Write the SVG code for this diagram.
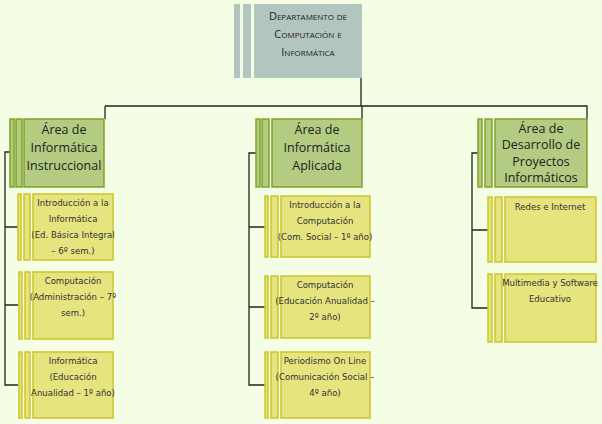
<svg xmlns="http://www.w3.org/2000/svg" width="602" height="424" viewBox="0 0 602 424">
<style>
.top{fill:#b2c5bf}
.l2{fill:#b3cc82;stroke:#7ea227;stroke-width:1.5}
.l3{fill:#e5e47f;stroke:#cbc52a;stroke-width:1.5}
.c{fill:none;stroke:#222;stroke-width:1.3}
.t1{font-family:"Open Sans","DejaVu Sans",sans-serif;font-size:11px;font-variant:small-caps;fill:#222;text-anchor:middle}
.t2{font-family:"Open Sans","DejaVu Sans",sans-serif;font-size:12.5px;fill:#222;text-anchor:middle}
.t3{font-family:"DejaVu Sans Condensed","Liberation Sans Narrow","Liberation Sans",sans-serif;font-size:9.5px;fill:#333;text-anchor:middle;font-stretch:condensed}
</style>
<rect width="602" height="424" fill="#f4fee4"/>
<g id="connectors">
<path class="c" d="M361 78V106M105 106H587V119M362 106V119M105 106V119"/>
<path class="c" d="M10 152H5V385H18M5 227H18M5 305H18"/>
<path class="c" d="M256 153H249V385H265M249 227H265M249 307H265"/>
<path class="c" d="M478 153H472V308H488M472 230H488"/>
</g>
<g id="top">
<rect class="top" x="234" y="4" width="6" height="74"/><rect class="top" x="243" y="4" width="8" height="74"/><rect class="top" x="254" y="4" width="108" height="74"/>
<text class="t1" x="308" y="20">Departamento de</text>
<text class="t1" x="308" y="38">Computación e</text>
<text class="t1" x="308" y="56">Informática</text>
</g>
<g id="a1">
<rect class="l2" x="10" y="119" width="4" height="68"/><rect class="l2" x="16" y="119" width="6" height="68"/><rect class="l2" x="24" y="119" width="80" height="68"/>
<text class="t2" x="64" y="134">Área de</text><text class="t2" x="64" y="152">Informática</text><text class="t2" x="64" y="170">Instruccional</text>
</g>
<g id="a2">
<rect class="l2" x="256" y="119" width="4" height="68"/><rect class="l2" x="262" y="119" width="7" height="68"/><rect class="l2" x="272" y="119" width="90" height="68"/>
<text class="t2" x="317" y="134">Área de</text><text class="t2" x="317" y="152">Informática</text><text class="t2" x="317" y="170">Aplicada</text>
</g>
<g id="a3">
<rect class="l2" x="478" y="119" width="4" height="68"/><rect class="l2" x="485" y="119" width="7" height="68"/><rect class="l2" x="495" y="119" width="92" height="68"/>
<text class="t2" x="541" y="133">Área de</text><text class="t2" x="541" y="149">Desarrollo de</text><text class="t2" x="541" y="166">Proyectos</text><text class="t2" x="541" y="182">Informáticos</text>
</g>
<g id="n11">
<rect class="l3" x="18" y="194" width="3" height="66"/><rect class="l3" x="24" y="194" width="6" height="66"/><rect class="l3" x="33" y="194" width="80" height="66"/>
<text class="t3" x="73" y="206">Introducción a la</text><text class="t3" x="73" y="222">Informática</text><text class="t3" x="73" y="238">(Ed. Básica  Integral</text><text class="t3" x="73" y="254">– 6º sem.)</text>
</g>
<g id="n12">
<rect class="l3" x="19" y="272" width="3" height="67"/><rect class="l3" x="25" y="272" width="5" height="67"/><rect class="l3" x="33" y="272" width="80" height="67"/>
<text class="t3" x="73" y="284">Computación</text><text class="t3" x="73" y="300">(Administración – 7º</text><text class="t3" x="73" y="316">sem.)</text>
</g>
<g id="n13">
<rect class="l3" x="19" y="352" width="3" height="66"/><rect class="l3" x="25" y="352" width="5" height="66"/><rect class="l3" x="33" y="352" width="80" height="66"/>
<text class="t3" x="73" y="364">Informática</text><text class="t3" x="73" y="380">(Educación</text><text class="t3" x="73" y="396">Anualidad – 1º año)</text>
</g>
<g id="n21">
<rect class="l3" x="265" y="196" width="3" height="61"/><rect class="l3" x="271" y="196" width="7" height="61"/><rect class="l3" x="281" y="196" width="89" height="61"/>
<text class="t3" x="325" y="208">Introducción a la</text><text class="t3" x="325" y="224">Computación</text><text class="t3" x="325" y="240">(Com. Social – 1º año)</text>
</g>
<g id="n22">
<rect class="l3" x="265" y="276" width="3" height="62"/><rect class="l3" x="271" y="276" width="7" height="62"/><rect class="l3" x="281" y="276" width="89" height="62"/>
<text class="t3" x="325" y="288">Computación</text><text class="t3" x="325" y="304">(Educación Anualidad –</text><text class="t3" x="325" y="320">2º año)</text>
</g>
<g id="n23">
<rect class="l3" x="265" y="352" width="3" height="66"/><rect class="l3" x="271" y="352" width="7" height="66"/><rect class="l3" x="281" y="352" width="89" height="66"/>
<text class="t3" x="325" y="364">Periodismo On Line</text><text class="t3" x="325" y="380">(Comunicación Social –</text><text class="t3" x="325" y="396">4º año)</text>
</g>
<g id="n31">
<rect class="l3" x="488" y="197" width="4" height="65"/><rect class="l3" x="495" y="197" width="7" height="65"/><rect class="l3" x="505" y="197" width="91" height="65"/>
<text class="t3" x="550" y="210">Redes e Internet</text>
</g>
<g id="n32">
<rect class="l3" x="488" y="274" width="4" height="68"/><rect class="l3" x="495" y="274" width="7" height="68"/><rect class="l3" x="505" y="274" width="91" height="68"/>
<text class="t3" x="550" y="286">Multimedia y Software</text><text class="t3" x="550" y="302">Educativo</text>
</g>
</svg>
